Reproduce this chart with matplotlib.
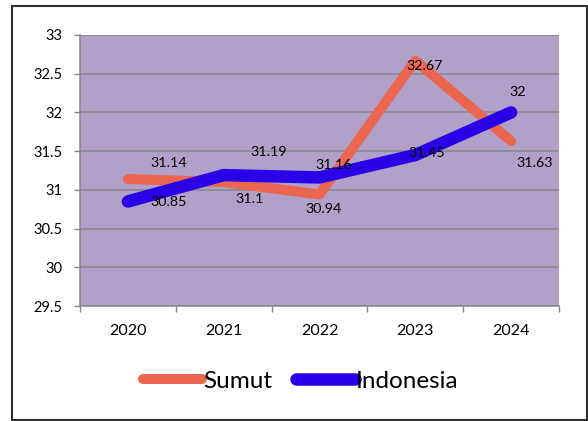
import matplotlib
matplotlib.use("Agg")
import matplotlib.pyplot as plt
from matplotlib.patches import Rectangle

plt.rcParams["font.family"] = ["Lato", "DejaVu Sans"]

years = ["2020", "2021", "2022", "2023", "2024"]
sumut = [31.14, 31.1, 30.94, 32.67, 31.63]
indonesia = [30.85, 31.19, 31.16, 31.45, 32.0]
sumut_labels = ["31.14", "31.1", "30.94", "32.67", "31.63"]
indonesia_labels = ["30.85", "31.19", "31.16", "31.45", "32"]

# label offsets in pixels (dx, dy), dy positive = up
sumut_off = [(41, 16), (26, -17), (4, -14), (9, -5), (24, -22)]
indo_off = [(41, -1), (45, 23), (14, 12), (11, 2), (7, 20)]

fig = plt.figure(figsize=(5.88, 4.21), dpi=100)
ax = fig.add_axes([80 / 588, 1 - 306 / 421, 479 / 588, 271 / 421])
ax.set_facecolor("#B1A0C7")

x = list(range(len(years)))
ax.plot(x, sumut, color="#EA6650", lw=7.2, solid_capstyle="round",
        solid_joinstyle="round", label="Sumut", zorder=3)
ax.plot(x, indonesia, color="#2A00E6", lw=9, solid_capstyle="round",
        solid_joinstyle="round", label="Indonesia", zorder=4)

px = 72 / 100
for i in x:
    dx, dy = sumut_off[i]
    ax.annotate(sumut_labels[i], (i, sumut[i]), xytext=(dx * px, dy * px),
                textcoords="offset points", ha="center", va="center",
                fontsize=10.3, color="black", zorder=5)
    dx, dy = indo_off[i]
    ax.annotate(indonesia_labels[i], (i, indonesia[i]), xytext=(dx * px, dy * px),
                textcoords="offset points", ha="center", va="center",
                fontsize=10.3, color="black", zorder=5)

ax.set_xlim(-0.5, len(years) - 0.5)
ax.set_ylim(29.5, 33)
ax.set_yticks([29.5, 30, 30.5, 31, 31.5, 32, 32.5, 33])
ax.set_yticklabels(["29.5", "30", "30.5", "31", "31.5", "32", "32.5", "33"])
ax.yaxis.grid(True, color="#878787", lw=1.1)
ax.set_axisbelow(True)

ax.set_xticks(x)
ax.set_xticklabels(years)
ax.set_xticks([i - 0.5 for i in range(len(years) + 1)], minor=True)
ax.tick_params(axis="x", which="major", length=0, pad=13, labelsize=11.5)
ax.tick_params(axis="x", which="minor", length=4.5, width=1, color="#878787",
               direction="out")
ax.tick_params(axis="y", length=4.5, width=1, color="#878787", pad=8,
               labelsize=10.5)

for side in ["top", "right"]:
    ax.spines[side].set_visible(False)
for side in ["left", "bottom"]:
    ax.spines[side].set_color("#878787")
    ax.spines[side].set_linewidth(1.1)

fig.legend(loc="center", bbox_to_anchor=(301 / 588, 1 - 381 / 421),
           ncol=2, frameon=False, fontsize=17.5, handlelength=2.4,
           handletextpad=0.05, columnspacing=1.0)

fig.patches.append(Rectangle((12 / 588, 1 / 421), 575 / 588, 414 / 421,
                             transform=fig.transFigure, fill=False,
                             edgecolor="#303030", lw=1.5))

fig.savefig("out.png", dpi=100)
